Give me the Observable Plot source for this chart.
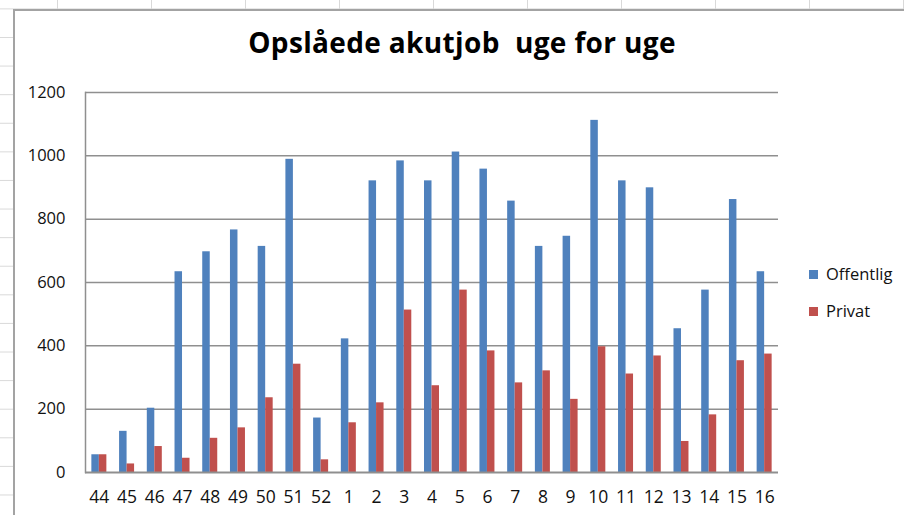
<!DOCTYPE html>
<html>
<head>
<meta charset="utf-8">
<script src="https://cdn.jsdelivr.net/npm/d3@7"></script>
<script src="https://cdn.jsdelivr.net/npm/@observablehq/plot@0.6"></script>
<style>
  html, body { margin: 0; padding: 0; }
  body {
    width: 904px; height: 515px; overflow: hidden; position: relative;
    background-color: #fff;
    background-image:
      linear-gradient(to right, #d9d9d9 1px, transparent 1px),
      linear-gradient(to bottom, #d9d9d9 1px, transparent 1px);
    background-size: 94px 100%, 100% 28.6px;
    background-position: 57px 0, 0 8.4px;
    font-family: "Open Sans", sans-serif;
  }
  #box {
    position: absolute; left: 13px; top: 9px; width: 1000px; height: 1000px;
    background: #fff; border-left: 2px solid #a3a3a3; border-top: 2px solid #a3a3a3;
  }
  #title {
    position: absolute; left: 0; width: 924px; top: 28px; text-align: center;
    font-family: "Open Sans", sans-serif; font-weight: 700; font-size: 28px; line-height: 28px;
    color: #000; letter-spacing: 0.35px; white-space: pre;
  }
  #chart { position: absolute; left: 0; top: 70px; }
  .leg { position: absolute; left: 809px; font-size: 16.5px; line-height: 16px; color: #111; white-space: nowrap; }
  .leg span { display: inline-block; width: 9px; height: 9px; margin-right: 8px; vertical-align: 1px; }
</style>
</head>
<body>
<div id="box"></div>
<div id="title">Opslåede akutjob  uge for uge</div>
<div id="chart"></div>
<div class="leg" style="top:266px"><span style="background:#4F81BD"></span>Offentlig</div>
<div class="leg" style="top:303px"><span style="background:#C0504D"></span>Privat</div>
<script>
const weeks = ["44","45","46","47","48","49","50","51","52","1","2","3","4","5","6","7","8","9","10","11","12","13","14","15","16"];
const offentlig = [56,130,203,634,697,766,714,989,172,422,921,984,921,1012,958,857,714,746,1112,921,899,454,576,862,634];
const privat = [56,27,82,45,108,141,236,342,40,157,220,513,274,576,384,283,321,231,397,311,368,98,182,353,374];
const series = ["Offentlig", "Privat"];
const colors = ["#4F81BD", "#C0504D"];
const yTicks = [0, 200, 400, 600, 800, 1000, 1200];

const rowsOff = weeks.map((w, i) => ({week: w, serie: series[0], value: offentlig[i]}));
const rowsPriv = weeks.map((w, i) => ({week: w, serie: series[1], value: privat[i]}));

// band step = 693 / 25 = 27.72 px; each bar 7.5 px wide, pair centred in the band
const outer = 6.36, inner = 13.86;

const chart = Plot.plot({
  width: 800,
  height: 445,
  marginTop: 22,
  marginBottom: 43,
  marginLeft: 85,
  marginRight: 22,
  style: {fontFamily: "Open Sans", fontSize: "16px", color: "#111", background: "transparent"},
  x: {domain: weeks, padding: 0, round: false, label: null},
  y: {domain: [0, 1200], label: null},
  marks: [
    Plot.gridY(yTicks.slice(1), {stroke: "#8f8f8f", strokeOpacity: 1, strokeWidth: 1.5}),
    Plot.barY(rowsOff, {x: "week", y: "value", fill: colors[0], insetLeft: outer, insetRight: inner}),
    Plot.barY(rowsPriv, {x: "week", y: "value", fill: colors[1], insetLeft: inner, insetRight: outer}),
    Plot.frame({anchor: "left", stroke: "#8f8f8f", strokeWidth: 1.5}),
    Plot.ruleY([0], {stroke: "#8f8f8f", strokeWidth: 2}),
    Plot.axisY({ticks: yTicks, tickFormat: d => String(d), tickSize: 0, tickPadding: 20, fontSize: 16.5, label: null, fill: "#111"}),
    Plot.axisX({tickSize: 0, tickPadding: 18, fontSize: 17.5, label: null, fill: "#111"})
  ]
});
document.getElementById("chart").appendChild(chart);
</script>
</body>
</html>
